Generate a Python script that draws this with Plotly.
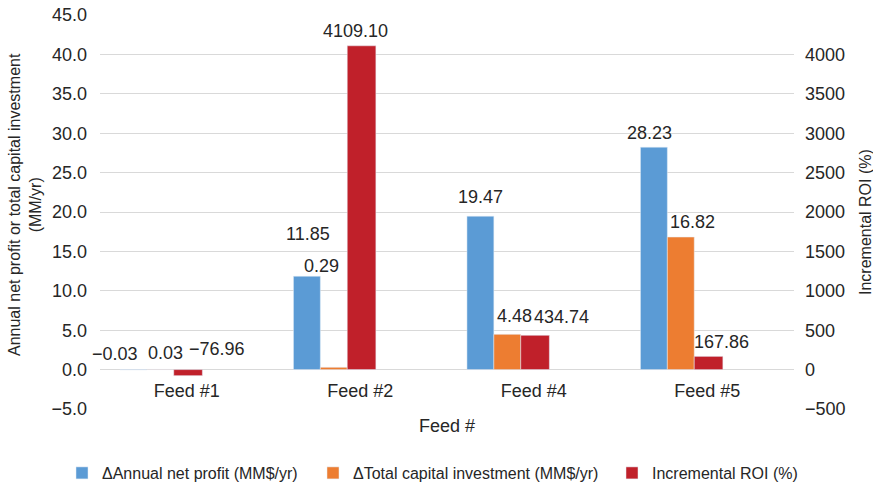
import plotly.graph_objects as go

# Data
feeds = ["Feed #1", "Feed #2", "Feed #4", "Feed #5"]
net_profit = [-0.03, 11.85, 19.47, 28.23]          # ΔAnnual net profit (MM$/yr)
capital_inv = [0.03, 0.29, 4.48, 16.82]            # ΔTotal capital investment (MM$/yr)
roi = [-76.96, 4109.10, 434.74, 167.86]            # Incremental ROI (%)

left_ticks = [-5, 0, 5, 10, 15, 20, 25, 30, 35, 40, 45]
right_ticks = [-500, 0, 500, 1000, 1500, 2000, 2500, 3000, 3500, 4000]

# Styling
FONT = "Liberation Sans, Arial, sans-serif"
TXT = "#262626"
GRID = "#D9D9D9"
BLUE, ORANGE, RED = "#5B9BD5", "#ED7D31", "#C0202A"

# bar geometry in category units (offset of left edge, width)
geom = {
    "blue": (-0.385, 0.155),
    "orange": (-0.23, 0.155),
    "red": (-0.075, 0.165),
}

# label nudges in pixels (dx, up) relative to each bar's end
nudge_blue = [(-18, 16), (1, 42), (0, 19), (-4, 14)]
nudge_orange = [(5, 16), (-12, 101), (7, 18), (12, 15)]
nudge_red = [(29, 27), (-6, 15), (26, 18), (13, 14)]

W, H = 873, 482
ML, MR, MT, MB = 100, 79, 15, 73
plot_w = W - ML - MR
plot_h = H - MT - MB

fig = go.Figure()

series = [
    ("ΔAnnual net profit (MM$/yr)", net_profit, BLUE, "y", "blue", nudge_blue, "legend", 62),
    ("ΔTotal capital investment (MM$/yr)", capital_inv, ORANGE, "y", "orange", nudge_orange, "legend2", 313),
    ("Incremental ROI (%)", roi, RED, "y2", "red", nudge_red, "legend3", 612),
]

annotations = []
legends = {}
for name, vals, color, yax, key, nudges, leg, leg_px in series:
    off, wid = geom[key]
    fig.add_trace(go.Bar(
        x=feeds, y=vals, name=name, marker_color=color,
        offset=off, width=wid, yaxis=yax, legend=leg, showlegend=True,
    ))
    legends[leg] = dict(
        orientation="h", x=(leg_px - ML) / plot_w, xanchor="left",
        y=(H - MB - 473) / plot_h, yanchor="middle",
        font=dict(family=FONT, size=16, color=TXT),
        bgcolor="rgba(0,0,0,0)",
    )
    for i, v in enumerate(vals):
        dx, up = nudges[i]
        annotations.append(dict(
            x=i + off + wid / 2, y=v, xref="x", yref=yax,
            text=f"{v:.2f}".replace("-", "−"),
            showarrow=False, xanchor="center", yanchor="middle",
            xshift=dx, yshift=up,
            font=dict(family=FONT, size=18, color=TXT),
        ))

# axis titles
annotations.append(dict(
    x=(25 - ML) / plot_w, y=(H - MB - 205) / plot_h, xref="paper", yref="paper",
    text="Annual net profit or total capital investment<br>(MM/yr)",
    textangle=-90, showarrow=False, xanchor="center", yanchor="middle",
    font=dict(family=FONT, size=16, color=TXT),
))
annotations.append(dict(
    x=(865 - ML) / plot_w, y=(H - MB - 222) / plot_h, xref="paper", yref="paper",
    text="Incremental ROI (%)",
    textangle=-90, showarrow=False, xanchor="center", yanchor="middle",
    font=dict(family=FONT, size=16, color=TXT),
))
annotations.append(dict(
    x=0.5, y=(H - MB - 426) / plot_h, xref="paper", yref="paper",
    text="Feed #", showarrow=False, xanchor="center", yanchor="middle",
    font=dict(family=FONT, size=18, color=TXT),
))

fig.update_layout(
    width=W, height=H,
    margin=dict(l=ML, r=MR, t=MT, b=MB, autoexpand=False),
    paper_bgcolor="white", plot_bgcolor="white",
    barmode="overlay",
    showlegend=True,
    font=dict(family=FONT, size=18, color=TXT),
    xaxis=dict(
        type="category", range=[-0.5, 3.5],
        anchor="free", position=0.1,
        showgrid=False, showline=False, zeroline=False,
        ticks="", ticklabelstandoff=8,
        tickfont=dict(family=FONT, size=18, color=TXT),
    ),
    yaxis=dict(
        range=[-5, 45], tickvals=left_ticks, tickformat=".1f",
        showgrid=True, gridcolor=GRID, gridwidth=1,
        zeroline=False, showline=False, ticks="",
        ticklabelstandoff=12,
        tickfont=dict(family=FONT, size=18, color=TXT),
    ),
    yaxis2=dict(
        range=[-500, 4500], tickvals=right_ticks, tickformat="d",
        overlaying="y", side="right",
        showgrid=False, zeroline=False, showline=False, ticks="",
        ticklabelstandoff=10,
        tickfont=dict(family=FONT, size=18, color=TXT),
    ),
    annotations=annotations,
    **legends,
)

fig.write_html("out.html")
